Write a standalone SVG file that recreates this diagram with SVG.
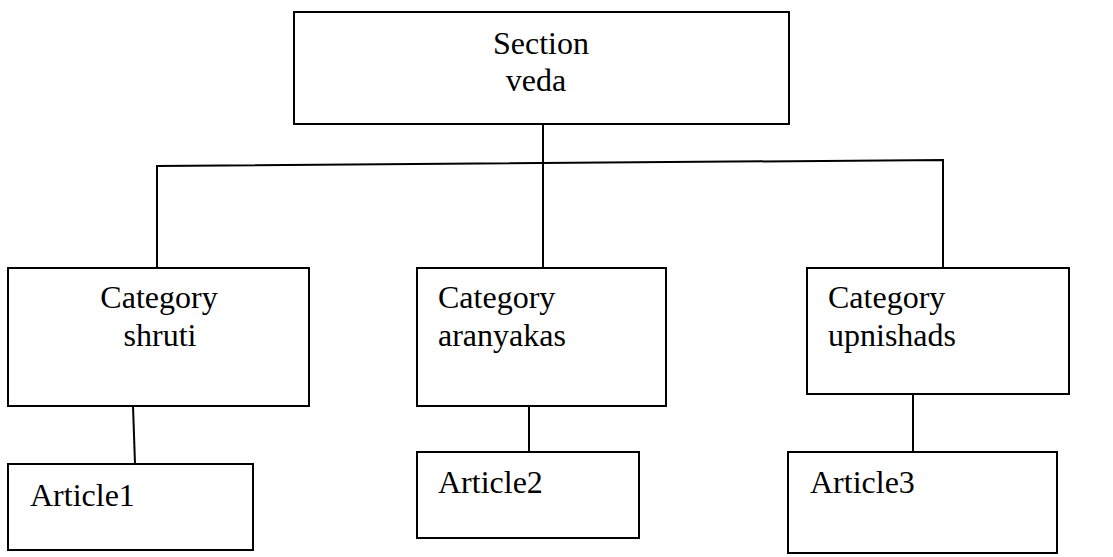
<svg xmlns="http://www.w3.org/2000/svg" width="1113" height="557" viewBox="0 0 1113 557">
  <style>
    .box { fill: #ffffff; stroke: #000000; stroke-width: 2; }
    .link { fill: none; stroke: #000000; stroke-width: 2; }
    .label { font-family: "Liberation Serif", "Times New Roman", serif; font-size: 32px; fill: #000000; }
    .mid { text-anchor: middle; }
  </style>
  <rect width="1113" height="557" fill="#ffffff"/>

  <!-- tree connectors -->
  <g id="connectors">
    <line class="link" x1="543" y1="124" x2="543" y2="268"/>
    <polyline class="link" points="157,268 157,166 943,160 943,268"/>
    <line class="link" x1="133" y1="406" x2="135" y2="464"/>
    <line class="link" x1="529" y1="406" x2="529" y2="452"/>
    <line class="link" x1="913" y1="394" x2="913" y2="452"/>
  </g>

  <g id="section-veda">
    <rect class="box" x="294" y="12" width="495" height="112"/>
    <text class="label mid" x="541" y="54">Section</text>
    <text class="label mid" x="536" y="91">veda</text>
  </g>

  <g id="category-shruti">
    <rect class="box" x="8" y="268" width="301" height="138"/>
    <text class="label mid" x="159" y="308">Category</text>
    <text class="label mid" x="160" y="346">shruti</text>
  </g>

  <g id="category-aranyakas">
    <rect class="box" x="417" y="268" width="249" height="138"/>
    <text class="label" x="438" y="308">Category</text>
    <text class="label" x="438" y="346">aranyakas</text>
  </g>

  <g id="category-upnishads">
    <rect class="box" x="807" y="268" width="262" height="126"/>
    <text class="label" x="828" y="308">Category</text>
    <text class="label" x="828" y="346">upnishads</text>
  </g>

  <g id="article1">
    <rect class="box" x="8" y="464" width="245" height="86"/>
    <text class="label" x="30" y="506">Article1</text>
  </g>

  <g id="article2">
    <rect class="box" x="417" y="452" width="222" height="86"/>
    <text class="label" x="438" y="493">Article2</text>
  </g>

  <g id="article3">
    <rect class="box" x="788" y="452" width="269" height="101"/>
    <text class="label" x="810" y="493">Article3</text>
  </g>
</svg>
